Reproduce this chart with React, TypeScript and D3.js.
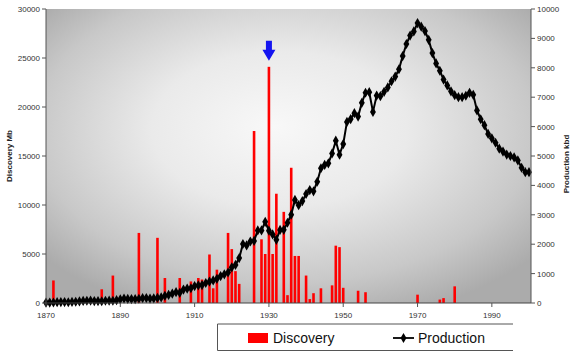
import React from "react";
import * as d3 from "d3";

const startYear = 1870;
const endYear = 2000;
const years = d3.range(startYear, endYear + 1);

const discoveryYears = [1872, 1885, 1888, 1895, 1900, 1902, 1906, 1909, 1911, 1912, 1914, 1915, 1916, 1919, 1920, 1921, 1922, 1926, 1928, 1929, 1930, 1931, 1932, 1934, 1935, 1936, 1937, 1938, 1940, 1941, 1942, 1944, 1947, 1948, 1949, 1950, 1954, 1956, 1970, 1976, 1977, 1980];
const discoveryValues = [2300, 1400, 2800, 7150, 6650, 2550, 2550, 2200, 2550, 2400, 4950, 1500, 3400, 7150, 5500, 3250, 1950, 17550, 6500, 5000, 24100, 5000, 11150, 9300, 800, 13800, 4800, 4800, 2800, 400, 1000, 1500, 1800, 5850, 5700, 1550, 1250, 1100, 850, 350, 500, 1700];

const production = [
  15, 14, 17, 27, 30, 33, 25, 37, 42, 55,
  72, 76, 83, 65, 67, 60, 77, 78, 76, 96,
  125, 149, 138, 133, 135, 145, 166, 166, 151, 156,
  174, 190, 243, 275, 320, 369, 346, 456, 489, 502,
  574, 601, 608, 680, 729, 769, 821, 917, 974, 1037,
  1214, 1295, 1528, 2007, 1958, 2092, 2112, 2469, 2468, 2760,
  2460, 2331, 2150, 2487, 2488, 2730, 3004, 3505, 3327, 3466,
  3707, 3842, 3799, 4125, 4584, 4695, 4751, 5088, 5520, 5046,
  5407, 6158, 6256, 6458, 6342, 6807, 7151, 7170, 6500, 7054,
  7035, 7183, 7332, 7542, 7700, 7950, 8400, 8810, 9096, 9238,
  9520, 9400, 9250, 8950, 8500, 8150, 7900, 7600, 7400, 7200,
  7070, 7000, 7000, 7050, 7150, 7080, 6550, 6250, 6050, 5750,
  5600, 5450, 5250, 5150, 5050, 5000, 4950, 4850, 4600, 4450,
  4450,
];

const xTicks = [1870, 1890, 1910, 1930, 1950, 1970, 1990];
const leftTicks = [0, 5000, 10000, 15000, 20000, 25000, 30000];
const rightTicks = [0, 1000, 2000, 3000, 4000, 5000, 6000, 7000, 8000, 9000, 10000];
const highlightYear = 1930;

const W = 576;
const H = 356;
const plot = { left: 46, right: 531, top: 9, bottom: 303 };
const FONT = "'Liberation Sans', Arial, sans-serif";

export default function App() {
  const x = d3.scaleLinear().domain([startYear, endYear]).range([46, 529]);
  const yL = d3.scaleLinear().domain([0, 30000]).range([plot.bottom, plot.top]);
  const yR = d3.scaleLinear().domain([0, 10000]).range([plot.bottom, plot.top]);

  const line = d3
    .line<number>()
    .x((_, i) => x(years[i]))
    .y((d) => yR(d));

  const diamond = d3.symbol(d3.symbolDiamond, 30)() as string;

  const hx = x(highlightYear);
  const hIdx = discoveryYears.indexOf(highlightYear);
  const hTop = yL(discoveryValues[hIdx]);
  const arrowBottom = hTop - 6;
  const arrowPath = `M${hx - 3},${arrowBottom - 20} L${hx + 3},${arrowBottom - 20} L${hx + 3},${arrowBottom - 11} L${hx + 6.5},${arrowBottom - 11} L${hx},${arrowBottom} L${hx - 6.5},${arrowBottom - 11} L${hx - 3},${arrowBottom - 11} Z`;

  return (
    <svg width={W} height={H} style={{ display: "block", position: "absolute", left: 0, top: 0 }} fontFamily={FONT}>
      <defs>
        <radialGradient id="bg" cx="0.5" cy="0.42" r="0.66" fx="0.47" fy="0.4">
          <stop offset="0" stopColor="#f8f8f8" />
          <stop offset="0.4" stopColor="#eaeaea" />
          <stop offset="0.78" stopColor="#c8c8c8" />
          <stop offset="1" stopColor="#ababab" />
        </radialGradient>
      </defs>
      <rect x={0} y={0} width={W} height={H} fill="#ffffff" />
      <rect x={plot.left} y={plot.top} width={plot.right - plot.left} height={plot.bottom - plot.top} fill="url(#bg)" />

      {/* discovery bars */}
      {discoveryYears.map((yr, i) => (
        <rect key={yr} x={x(yr) - 1.3} y={yL(discoveryValues[i])} width={2.6} height={plot.bottom - yL(discoveryValues[i])} fill="#ff0000" />
      ))}

      {/* production line */}
      <path d={line(production) as string} fill="none" stroke="#000" strokeWidth={2} />
      {production.map((v, i) => (
        <path key={i} d={diamond} transform={`translate(${x(years[i])},${yR(v)})`} fill="#000" />
      ))}

      {/* arrow */}
      <path d={arrowPath} fill="#1414f0" />

      {/* axes */}
      <line x1={plot.left} x2={plot.left} y1={plot.top} y2={plot.bottom} stroke="#555" strokeWidth={1} />
      <line x1={plot.right} x2={plot.right} y1={plot.top} y2={plot.bottom} stroke="#555" strokeWidth={1} />
      <line x1={plot.left} x2={plot.right} y1={plot.bottom} y2={plot.bottom} stroke="#444" strokeWidth={1} />

      {leftTicks.map((t) => (
        <g key={t}>
          <line x1={plot.left - 4} x2={plot.left} y1={yL(t)} y2={yL(t)} stroke="#555" />
          <text x={plot.left - 6} y={yL(t) + 3} fontSize={8} textAnchor="end" fill="#333">{t}</text>
        </g>
      ))}
      {rightTicks.map((t) => (
        <g key={t}>
          <line x1={plot.right} x2={plot.right + 4} y1={yR(t)} y2={yR(t)} stroke="#555" />
          <text x={plot.right + 6} y={yR(t) + 3} fontSize={8} textAnchor="start" fill="#333">{t}</text>
        </g>
      ))}
      {xTicks.map((t) => (
        <g key={t}>
          <line x1={x(t)} x2={x(t)} y1={plot.bottom} y2={plot.bottom + 4} stroke="#555" />
          <text x={x(t)} y={plot.bottom + 15} fontSize={8} textAnchor="middle" fill="#333">{t}</text>
        </g>
      ))}

      <text transform={`translate(12,${(plot.top + plot.bottom) / 2}) rotate(-90)`} fontSize={8} fontWeight="bold" textAnchor="middle" fill="#222">Discovery Mb</text>
      <text transform={`translate(569,${(plot.top + plot.bottom) / 2 + 8}) rotate(-90)`} fontSize={8} fontWeight="bold" textAnchor="middle" fill="#222">Production kbd</text>

      {/* legend */}
      <path d="M513,324 L217.5,324 L217.5,350.5 L513,350.5" fill="none" stroke="#555" strokeWidth={1} />
      <rect x={248} y={333} width={20} height={10} fill="#ff0000" />
      <text x={273} y={343} fontSize={14} fill="#111">Discovery</text>
      <line x1={393} x2={414} y1={338} y2={338} stroke="#000" strokeWidth={1.8} />
      <path d={diamond} transform="translate(403.5,338)" fill="#000" />
      <text x={418} y={343} fontSize={14} fill="#111">Production</text>
    </svg>
  );
}
